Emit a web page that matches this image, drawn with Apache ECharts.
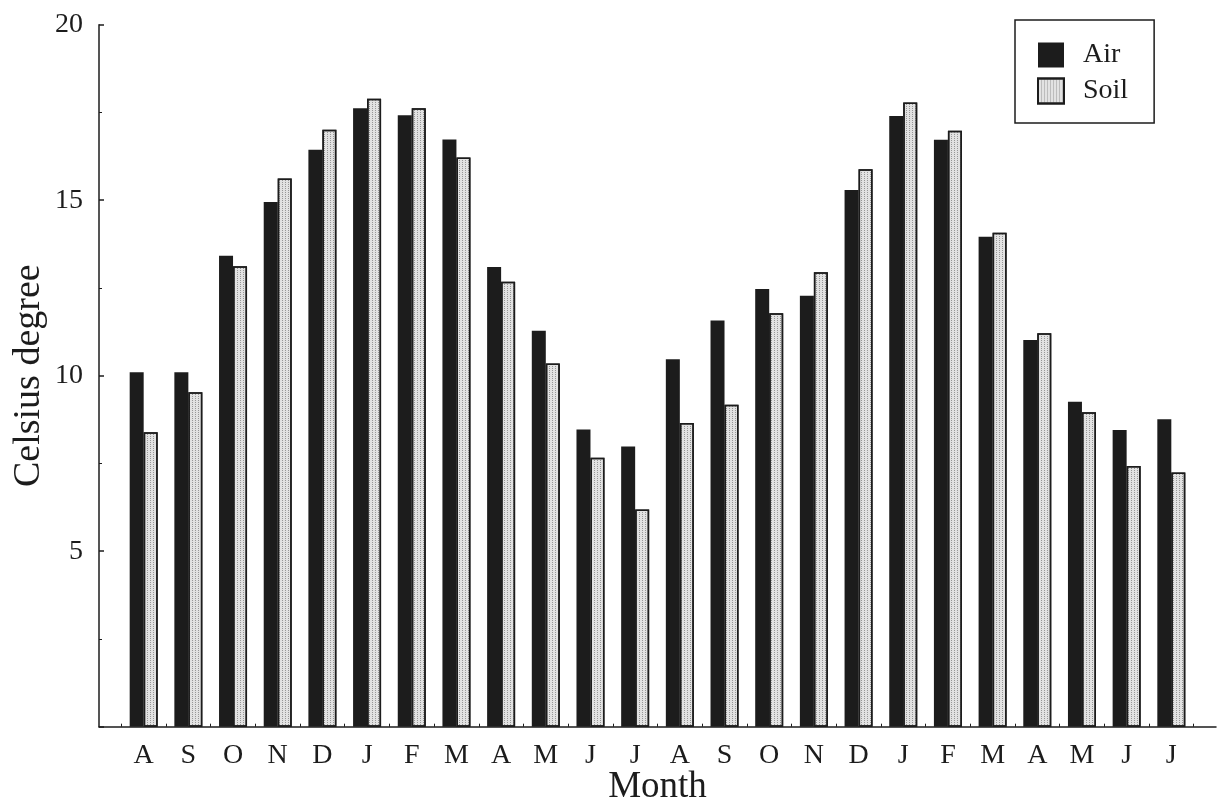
<!DOCTYPE html>
<html>
<head>
<meta charset="utf-8">
<script src="https://cdn.jsdelivr.net/npm/echarts@6/dist/echarts.min.js"></script>
<style>
html,body{margin:0;padding:0;background:#fff;}
#chart{width:1224px;height:802px;}
</style>
</head>
<body>
<div id="chart"></div>
<script>
const months = ['A','S','O','N','D','J','F','M','A','M','J','J','A','S','O','N','D','J','F','M','A','M','J','J'];
const airTemp = [10.1, 10.1, 13.42, 14.95, 16.44, 17.62, 17.42, 16.73, 13.1, 11.28, 8.47, 7.98, 10.47, 11.57, 12.47, 12.28, 15.29, 17.40, 16.72, 13.96, 11.02, 9.26, 8.45, 8.76];
const soilTemp = [8.39, 9.53, 13.12, 15.62, 17.01, 17.89, 17.62, 16.22, 12.68, 10.35, 7.66, 6.19, 8.65, 9.17, 11.78, 12.95, 15.88, 17.78, 16.98, 14.07, 11.21, 8.96, 7.43, 7.24];
const yTicks = [0, 5, 10, 15, 20];

const font = 'Liberation Serif';
const ink = '#1c1c1c';
const chart = echarts.init(document.getElementById('chart'), null, {renderer: 'canvas'});

const airData = airTemp.map((v, i) => [i + 1, v]);
const soilData = soilTemp.map((v, i) => [i + 1, v]);

chart.setOption({
  backgroundColor: '#ffffff',
  animation: false,
  grid: {left: 99, right: 8, top: 24.7, bottom: 75.3, containLabel: false, outerBoundsMode: 'none'},
  legend: {
    orient: 'vertical',
    left: 1015, top: 20,
    padding: [21, 26, 18, 22],
    itemWidth: 26, itemHeight: 25, itemGap: 8,
    borderColor: ink, borderWidth: 1.5,
    icon: 'rect',
    textStyle: {fontFamily: font, fontSize: 28, color: ink, padding: [0, 0, 0, 14]},
    data: ['Air', 'Soil']
  },
  xAxis: {
    type: 'value',
    min: 0, max: 25, interval: 1,
    name: 'Month',
    nameLocation: 'middle',
    nameGap: 42,
    nameMoveOverlap: false,
    nameTextStyle: {fontFamily: font, fontSize: 37, color: ink},
    axisLine: {show: true, lineStyle: {color: ink, width: 1.5}},
    axisTick: {show: false, inside: true},
    minorTick: {show: true, splitNumber: 2, length: 3, lineStyle: {color: ink, width: 1}},
    splitLine: {show: false},
    minorSplitLine: {show: false},
    axisLabel: {
      margin: 15,
      fontFamily: font, fontSize: 28, color: ink,
      formatter: v => (v >= 1 && v <= months.length && Number.isInteger(v)) ? months[v - 1] : ''
    }
  },
  yAxis: {
    type: 'value',
    min: yTicks[0], max: yTicks[yTicks.length - 1], interval: 5,
    name: 'Celsius degree',
    nameLocation: 'middle',
    nameGap: 51,
    nameMoveOverlap: false,
    nameTextStyle: {fontFamily: font, fontSize: 38, color: ink},
    axisLine: {show: true, lineStyle: {color: ink, width: 1.5}},
    axisTick: {show: true, inside: true, length: 5, lineStyle: {color: ink, width: 1.5}},
    minorTick: {show: true, splitNumber: 2, length: 3, lineStyle: {color: ink, width: 1}},
    splitLine: {show: false},
    axisLabel: {
      margin: 16,
      fontFamily: font, fontSize: 28, color: ink,
      formatter: v => v === 0 ? '' : String(v)
    }
  },
  series: [
    {
      name: 'Air', type: 'bar', data: airData,
      barWidth: 14, barGap: '0%',
      itemStyle: {color: ink}
    },
    {
      name: 'Soil', type: 'bar', data: soilData,
      barWidth: 14, barGap: '0%',
      itemStyle: {
        color: '#e2e2e2', borderColor: ink, borderWidth: 1.5,
        decal: {symbol: 'rect', symbolSize: 1, dashArrayX: [1, 2], dashArrayY: [1, 1], color: 'rgba(90,90,90,0.55)', rotation: 0}
      }
    }
  ]
});
</script>
</body>
</html>
